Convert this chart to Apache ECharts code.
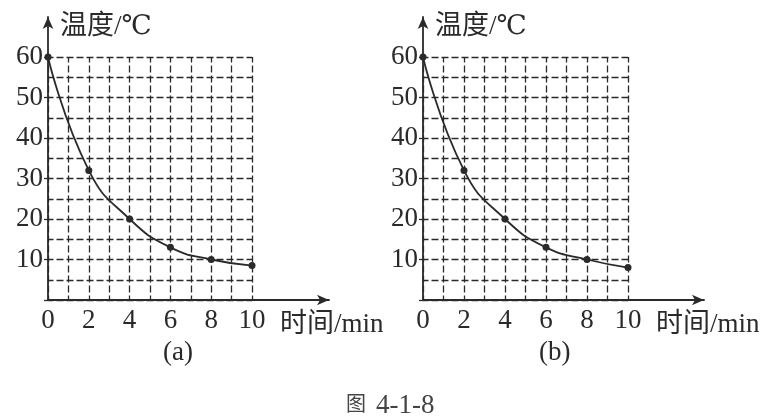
<!DOCTYPE html>
<html>
<head>
<meta charset="utf-8">
<script src="https://cdn.jsdelivr.net/npm/echarts@6/dist/echarts.min.js"></script>
<style>
  html, body { margin: 0; padding: 0; background: #fff; }
  #chart { width: 769px; height: 418px; }
</style>
</head>
<body>
<div id="chart"></div>
<script>
// 时间 (min)
var times = [0, 2, 4, 6, 8, 10];
// 温度 (℃)
var tempA = [60, 32, 20, 13, 10, 8.5];
var tempB = [60, 32, 20, 13, 10, 8];

var FONT = '"Liberation Serif", "DejaVu Serif", "Noto Sans CJK SC", serif';
var INK = '#2a2a2a';

function pairs(xs, ys) {
    var out = [];
    for (var i = 0; i < xs.length; i++) {
        out.push([xs[i], ys[i]]);
    }
    return out;
}

var chart = echarts.init(document.getElementById('chart'));

// 两个图：数据网格 + 带箭头的坐标轴网格
var panels = [
    { left: 48, dataRight: 769 - 252, axisRight: 769 - 329 },
    { left: 423, dataRight: 769 - 628, axisRight: 769 - 704 }
];

var grids = [], xAxes = [], yAxes = [];
panels.forEach(function (p, k) {
    // 数据网格
    grids.push({ left: p.left, right: p.dataRight, top: 57, bottom: 118 });
    // 坐标轴网格
    grids.push({ left: p.left, right: p.axisRight, top: 17, bottom: 118 });

    var dashed = { show: true, lineStyle: { color: INK, width: 1.3, type: [7, 3], dashOffset: 1.5 } };

    xAxes.push({
        gridIndex: k * 2, type: 'value', min: 0, max: 10, interval: 2,
        axisLine: { show: false },
        axisTick: { show: false },
        minorTick: { show: false, splitNumber: 2 },
        splitLine: dashed,
        minorSplitLine: dashed,
        axisLabel: { color: INK, fontFamily: FONT, fontSize: 27, margin: 7 }
    });
    yAxes.push({
        gridIndex: k * 2, type: 'value', min: 0, max: 60, interval: 10,
        axisLine: { show: false },
        axisTick: { show: true, length: 4, lineStyle: { color: INK, width: 1.3 } },
        minorTick: { show: false, splitNumber: 2 },
        splitLine: dashed,
        minorSplitLine: dashed,
        axisLabel: {
            color: INK, fontFamily: FONT, fontSize: 27, margin: 5,
            formatter: function (v) { return v === 0 ? '' : v; }
        }
    });

    var arrowLine = { show: true, symbol: ['none', 'arrow'], symbolSize: [8, 12], lineStyle: { color: INK, width: 1.8 } };
    xAxes.push({
        gridIndex: k * 2 + 1, type: 'value', min: 0, max: 1,
        axisLine: arrowLine, axisTick: { show: false }, axisLabel: { show: false }, splitLine: { show: false }
    });
    yAxes.push({
        gridIndex: k * 2 + 1, type: 'value', min: 0, max: 1,
        axisLine: arrowLine, axisTick: { show: false }, axisLabel: { show: false }, splitLine: { show: false }
    });
});

function curve(idx, data) {
    return {
        type: 'line',
        xAxisIndex: idx * 2,
        yAxisIndex: idx * 2,
        data: pairs(times, data),
        smooth: 0.5,
        symbol: 'circle',
        symbolSize: 7,
        itemStyle: { color: INK },
        lineStyle: { color: INK, width: 1.8 },
        z: 5
    };
}

var textStyle = { color: INK, fontFamily: FONT, fontSize: 27, fontWeight: 'normal' };

var option = {
    backgroundColor: '#fff',
    animation: false,
    title: [
        { text: '温度/℃', left: 55, top: 8, textStyle: textStyle },
        { text: '时间/min', left: 275, top: 306, textStyle: textStyle },
        { text: '(a)', left: 158, top: 334, textStyle: textStyle },
        { text: '温度/℃', left: 430, top: 8, textStyle: textStyle },
        { text: '时间/min', left: 651, top: 306, textStyle: textStyle },
        { text: '(b)', left: 534, top: 334, textStyle: textStyle },
        {
            text: '{a|图}  {b|4-1-8}', left: 341, top: 387,
            textStyle: {
                fontWeight: 'normal',
                rich: {
                    a: { color: '#444', fontFamily: FONT, fontSize: 20, fontWeight: 'normal' },
                    b: { color: '#444', fontFamily: FONT, fontSize: 27, fontWeight: 'normal' }
                }
            }
        }
    ],
    grid: grids,
    xAxis: xAxes,
    yAxis: yAxes,
    series: [curve(0, tempA), curve(1, tempB)]
};

chart.setOption(option);
</script>
</body>
</html>
